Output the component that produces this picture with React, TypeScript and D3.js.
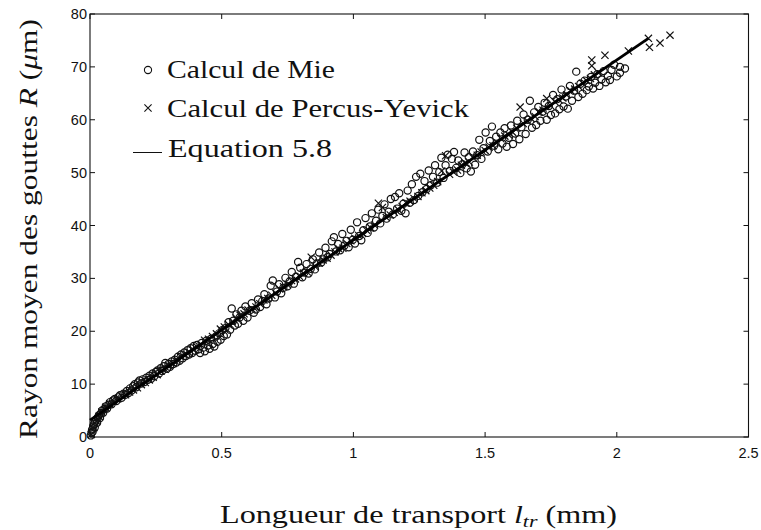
import React from 'react';
import * as d3 from 'd3';

// Calcul de Mie : [l_tr (mm), R (µm)]
const mieCalc: [number, number][] = [
  [0.003, 0.3], [0.006, 0.8], [0.008, 1.4], [0.01, 1.0], [0.012, 2.0], [0.015, 2.4], [0.018, 1.8],
  [0.02, 2.9], [0.024, 3.3], [0.027, 2.7], [0.03, 3.7], [0.034, 4.1], [0.038, 3.6], [0.042, 4.5],
  [0.046, 5.0], [0.05, 4.6], [0.055, 5.3], [0.06, 5.8], [0.065, 5.4], [0.07, 6.1], [0.076, 6.6],
  [0.082, 6.2], [0.088, 6.9], [0.094, 7.2], [0.1, 6.8], [0.107, 7.5], [0.114, 7.9], [0.12, 7.4],
  [0.127, 8.2], [0.134, 8.0], [0.14, 8.7], [0.146, 8.3], [0.152, 9.2], [0.158, 8.8], [0.164, 9.6],
  [0.17, 10.0], [0.176, 9.4], [0.182, 10.3], [0.188, 10.7], [0.194, 10.1], [0.2, 10.9], [0.207, 10.4],
  [0.214, 11.2], [0.22, 10.8], [0.226, 11.6], [0.232, 11.0], [0.238, 12.0], [0.244, 11.5], [0.25, 12.3],
  [0.256, 12.6], [0.262, 12.0], [0.268, 13.0], [0.274, 12.5], [0.28, 13.4], [0.286, 14.0], [0.292, 12.9],
  [0.298, 13.8], [0.304, 13.3], [0.31, 14.3], [0.316, 13.8], [0.322, 14.6], [0.328, 14.1], [0.334, 15.2],
  [0.34, 14.4], [0.346, 15.6], [0.352, 14.9], [0.358, 16.0], [0.364, 15.3], [0.37, 16.4], [0.376, 15.6],
  [0.382, 16.8], [0.388, 15.9], [0.394, 17.2], [0.4, 16.3], [0.406, 17.4], [0.412, 16.6], [0.418, 15.9],
  [0.424, 17.8], [0.43, 16.9], [0.436, 16.2], [0.442, 18.2], [0.448, 17.3], [0.454, 16.7], [0.46, 18.6],
  [0.466, 17.6], [0.472, 17.1], [0.478, 19.0], [0.484, 18.0], [0.49, 19.6], [0.496, 18.4], [0.502, 20.2],
  [0.508, 19.1], [0.514, 20.6], [0.52, 19.4], [0.526, 21.7], [0.532, 20.3], [0.538, 24.3], [0.544, 22.0],
  [0.55, 21.1], [0.556, 23.2], [0.562, 21.4], [0.568, 22.6], [0.575, 23.9], [0.582, 22.0], [0.59, 24.7],
  [0.598, 22.6], [0.606, 23.9], [0.614, 25.3], [0.622, 23.5], [0.63, 24.1], [0.638, 26.0], [0.646, 24.6],
  [0.654, 25.7], [0.662, 27.0], [0.67, 25.1], [0.678, 26.2], [0.686, 28.6], [0.694, 29.6], [0.702, 26.4],
  [0.71, 27.5], [0.718, 28.9], [0.726, 27.2], [0.734, 28.2], [0.742, 30.1], [0.75, 28.5], [0.758, 29.4],
  [0.766, 31.2], [0.774, 29.0], [0.782, 30.3], [0.79, 33.1], [0.798, 32.0], [0.806, 30.2], [0.814, 31.1],
  [0.822, 32.7], [0.83, 30.9], [0.838, 31.8], [0.846, 33.6], [0.854, 31.7], [0.862, 32.8], [0.87, 34.9],
  [0.878, 33.0], [0.886, 33.6], [0.894, 35.8], [0.902, 34.0], [0.91, 34.6], [0.918, 37.0], [0.926, 37.8],
  [0.934, 35.1], [0.942, 36.5], [0.95, 35.3], [0.958, 38.4], [0.966, 36.2], [0.974, 37.1], [0.982, 35.9],
  [0.99, 39.2], [0.998, 37.3], [1.006, 36.6], [1.014, 40.6], [1.022, 38.0], [1.03, 37.2], [1.038, 39.1],
  [1.046, 41.4], [1.054, 38.6], [1.062, 39.8], [1.07, 42.3], [1.078, 39.6], [1.086, 40.9], [1.094, 43.0],
  [1.102, 40.4], [1.11, 41.8], [1.118, 44.0], [1.126, 41.3], [1.134, 42.6], [1.142, 45.0], [1.15, 42.1],
  [1.158, 45.4], [1.166, 43.2], [1.174, 46.1], [1.182, 42.8], [1.19, 44.1], [1.198, 42.3], [1.206, 46.6],
  [1.214, 44.3], [1.222, 47.8], [1.23, 44.8], [1.238, 49.2], [1.246, 45.6], [1.254, 49.8], [1.262, 46.3],
  [1.27, 48.4], [1.278, 46.9], [1.286, 50.4], [1.294, 47.6], [1.302, 49.2], [1.31, 51.4], [1.318, 48.1],
  [1.326, 50.1], [1.334, 52.8], [1.342, 49.0], [1.35, 51.4], [1.358, 53.4], [1.366, 50.3], [1.374, 52.6],
  [1.382, 53.9], [1.39, 50.9], [1.398, 52.3], [1.406, 49.9], [1.414, 51.6], [1.422, 53.8], [1.43, 50.8],
  [1.438, 52.9], [1.446, 50.2], [1.454, 54.0], [1.462, 51.5], [1.47, 53.3], [1.478, 56.2], [1.486, 52.6],
  [1.494, 54.6], [1.502, 57.6], [1.51, 54.0], [1.518, 56.0], [1.526, 58.7], [1.534, 55.1], [1.542, 56.8],
  [1.55, 54.4], [1.558, 57.6], [1.566, 55.5], [1.574, 58.4], [1.582, 54.9], [1.59, 56.6], [1.598, 58.9],
  [1.606, 55.4], [1.614, 57.4], [1.622, 59.8], [1.63, 56.3], [1.638, 58.6], [1.646, 61.0], [1.654, 57.3],
  [1.662, 60.0], [1.67, 63.6], [1.678, 58.5], [1.686, 61.4], [1.694, 59.0], [1.702, 62.4], [1.71, 59.8],
  [1.718, 61.5], [1.726, 63.2], [1.734, 60.0], [1.742, 62.6], [1.75, 60.9], [1.758, 64.7], [1.766, 61.2],
  [1.774, 63.9], [1.782, 62.0], [1.79, 65.7], [1.798, 62.5], [1.806, 64.4], [1.814, 62.1], [1.822, 66.4],
  [1.83, 63.6], [1.838, 65.5], [1.846, 69.1], [1.854, 64.3], [1.862, 66.8], [1.87, 64.9], [1.878, 67.4],
  [1.886, 65.6], [1.894, 66.3], [1.902, 68.1], [1.91, 65.9], [1.918, 67.0], [1.926, 68.6], [1.934, 66.4],
  [1.942, 67.6], [1.95, 69.2], [1.958, 67.1], [1.966, 68.3], [1.974, 67.5], [1.98, 69.4], [1.99, 70.4],
  [2.0, 68.2], [2.012, 70.0], [2.012, 68.9], [2.031, 69.7],
];

// Calcul de Percus-Yevick : [l_tr (mm), R (µm)]
const pyCalc: [number, number][] = [
  [0.005, 0.5], [0.015, 1.8], [0.025, 3.0], [0.035, 3.9], [0.045, 4.7], [0.06, 5.6], [0.075, 6.3],
  [0.09, 6.8], [0.105, 7.2], [0.12, 7.8], [0.135, 8.0], [0.15, 8.5], [0.165, 8.9], [0.18, 9.3],
  [0.195, 9.9], [0.21, 10.3], [0.225, 10.8], [0.24, 11.3], [0.255, 11.8], [0.27, 12.5], [0.285, 12.8],
  [0.3, 13.5], [0.315, 13.9], [0.33, 14.6], [0.345, 15.2], [0.36, 15.6], [0.375, 16.0], [0.39, 16.6],
  [0.405, 17.1], [0.42, 17.5], [0.435, 18.3], [0.45, 18.5], [0.465, 19.0], [0.48, 19.5], [0.495, 20.4],
  [0.51, 20.8], [0.525, 21.3], [0.54, 21.8], [0.555, 22.5], [0.57, 23.0], [0.585, 23.3], [0.6, 24.0],
  [0.615, 24.2], [0.63, 24.6], [0.645, 25.2], [0.66, 25.9], [0.675, 26.2], [0.69, 26.8], [0.705, 27.2],
  [0.72, 28.0], [0.735, 28.4], [0.75, 28.8], [0.765, 29.6], [0.78, 29.9], [0.795, 30.4], [0.81, 31.0],
  [0.825, 31.2], [0.84, 34.0], [0.855, 32.2], [0.87, 32.9], [0.885, 33.5], [0.9, 33.8], [0.915, 34.4],
  [0.93, 35.0], [0.945, 35.6], [0.96, 35.7], [0.975, 36.6], [0.99, 37.1], [1.005, 37.6], [1.02, 38.1],
  [1.035, 38.5], [1.05, 39.1], [1.065, 39.6], [1.08, 40.1], [1.095, 44.2], [1.11, 43.4], [1.125, 41.5],
  [1.14, 42.0], [1.155, 42.5], [1.17, 43.0], [1.185, 43.6], [1.2, 44.3], [1.215, 44.6], [1.23, 45.1],
  [1.245, 45.5], [1.26, 46.2], [1.275, 46.6], [1.29, 47.1], [1.305, 47.6], [1.32, 48.3], [1.335, 50.3],
  [1.35, 53.2], [1.365, 49.7], [1.38, 50.1], [1.395, 50.5], [1.41, 51.4], [1.425, 51.8], [1.44, 52.0],
  [1.455, 52.8], [1.47, 53.3], [1.485, 53.9], [1.5, 54.2], [1.515, 54.8], [1.53, 55.1], [1.545, 55.7],
  [1.56, 56.4], [1.575, 56.9], [1.59, 57.1], [1.605, 57.6], [1.62, 58.4], [1.633, 62.4], [1.645, 59.3],
  [1.66, 59.8], [1.675, 60.2], [1.69, 60.6], [1.705, 61.5], [1.72, 61.8], [1.734, 64.0], [1.75, 62.6],
  [1.765, 63.4], [1.78, 63.8], [1.795, 64.1], [1.81, 64.7], [1.825, 65.5], [1.84, 65.8], [1.855, 66.3],
  [1.87, 66.9], [1.885, 67.4], [1.9, 67.8], [1.905, 71.3], [1.905, 70.2], [1.915, 68.5], [1.93, 68.9],
  [1.955, 72.2], [2.044, 73.0], [2.12, 75.4], [2.124, 73.7], [2.164, 74.5], [2.202, 76.0],
];

// Equation 5.8 (droite)
const eqL = [0, 2.12];
const eqR = [3.2, 75.4];

const xTicks = [0, 0.5, 1, 1.5, 2, 2.5];
const yTicks = [0, 10, 20, 30, 40, 50, 60, 70, 80];

const W = 761;
const H = 530;
const serif = '"Liberation Serif", "Times New Roman", serif';
const sans = '"Liberation Sans", Arial, sans-serif';

export default function App() {
  const x = d3.scaleLinear().domain([0, 2.5]).range([90, 748.5]);
  const y = d3.scaleLinear().domain([0, 80]).range([437, 14]);
  const [x0, x1] = x.range();
  const [y0, y1] = y.range();
  const tick = 5;
  const line = d3
    .line<number>()
    .x((d) => x(eqL[d]))
    .y((d) => y(eqR[d]));

  const cross = (cx: number, cy: number, s: number) =>
    `M${cx - s},${cy - s}L${cx + s},${cy + s}M${cx - s},${cy + s}L${cx + s},${cy - s}`;

  return (
    <svg width={W} height={H} style={{ position: 'absolute', left: 0, top: 0, background: '#fff' }}>
      {/* frame */}
      <rect x={x0} y={y1} width={x1 - x0} height={y0 - y1} fill="none" stroke="#111" strokeWidth={1.1} />

      {/* ticks */}
      {xTicks.map((t) => (
        <g key={`xt${t}`}>
          <line x1={x(t)} x2={x(t)} y1={y0} y2={y0 - tick} stroke="#111" />
          <line x1={x(t)} x2={x(t)} y1={y1} y2={y1 + tick} stroke="#111" />
          <text x={x(t)} y={458} textAnchor="middle" fontFamily={sans} fontSize={14.5} fill="#111">
            {t}
          </text>
        </g>
      ))}
      {yTicks.map((t) => (
        <g key={`yt${t}`}>
          <line x1={x0} x2={x0 + tick} y1={y(t)} y2={y(t)} stroke="#111" />
          <line x1={x1} x2={x1 - tick} y1={y(t)} y2={y(t)} stroke="#111" />
          <text x={x0 - 3} y={y(t) + 5} textAnchor="end" fontFamily={sans} fontSize={14.5} fill="#111">
            {t}
          </text>
        </g>
      ))}

      {/* Mie circles */}
      {mieCalc.map(([l, r], i) => (
        <circle key={`m${i}`} cx={x(l)} cy={y(r)} r={3.6} fill="none" stroke="#111" strokeWidth={1.2} />
      ))}

      {/* Percus-Yevick crosses */}
      {pyCalc.map(([l, r], i) => (
        <path key={`p${i}`} d={cross(x(l), y(r), 3.6)} fill="none" stroke="#111" strokeWidth={1.2} />
      ))}

      {/* Equation 5.8 */}
      <path d={line([0, 1]) || ''} fill="none" stroke="#000" strokeWidth={2.8} />

      {/* legend */}
      <g fontFamily={serif} fontSize={25} fill="#111">
        <circle cx={148} cy={70} r={3.6} fill="none" stroke="#111" strokeWidth={1.1} />
        <text x={167} y={78} textLength={168} lengthAdjust="spacingAndGlyphs">
          Calcul de Mie
        </text>
        <path d={cross(148, 108, 3.6)} stroke="#111" strokeWidth={1.1} />
        <text x={167} y={117} textLength={302} lengthAdjust="spacingAndGlyphs">
          Calcul de Percus-Yevick
        </text>
        <line x1={133} x2={162} y1={152.5} y2={152.5} stroke="#111" strokeWidth={1} />
        <text x={168} y={157} textLength={164} lengthAdjust="spacingAndGlyphs">
          Equation 5.8
        </text>
      </g>

      {/* axis labels */}
      <text
        x={220}
        y={523}
        fontFamily={serif}
        fontSize={25}
        fill="#111"
        textLength={397}
        lengthAdjust="spacingAndGlyphs"
      >
        Longueur de transport <tspan fontStyle="italic">l</tspan>
        <tspan fontStyle="italic" fontSize={17} dy={4}>tr</tspan>
        <tspan dy={-4}> (mm)</tspan>
      </text>
      <text
        transform="translate(37,229) rotate(-90)"
        textAnchor="middle"
        fontFamily={serif}
        fontSize={25}
        fill="#111"
        textLength={420}
        lengthAdjust="spacingAndGlyphs"
      >
        Rayon moyen des gouttes <tspan fontStyle="italic">R</tspan> (<tspan fontStyle="italic">μ</tspan>m)
      </text>
    </svg>
  );
}
